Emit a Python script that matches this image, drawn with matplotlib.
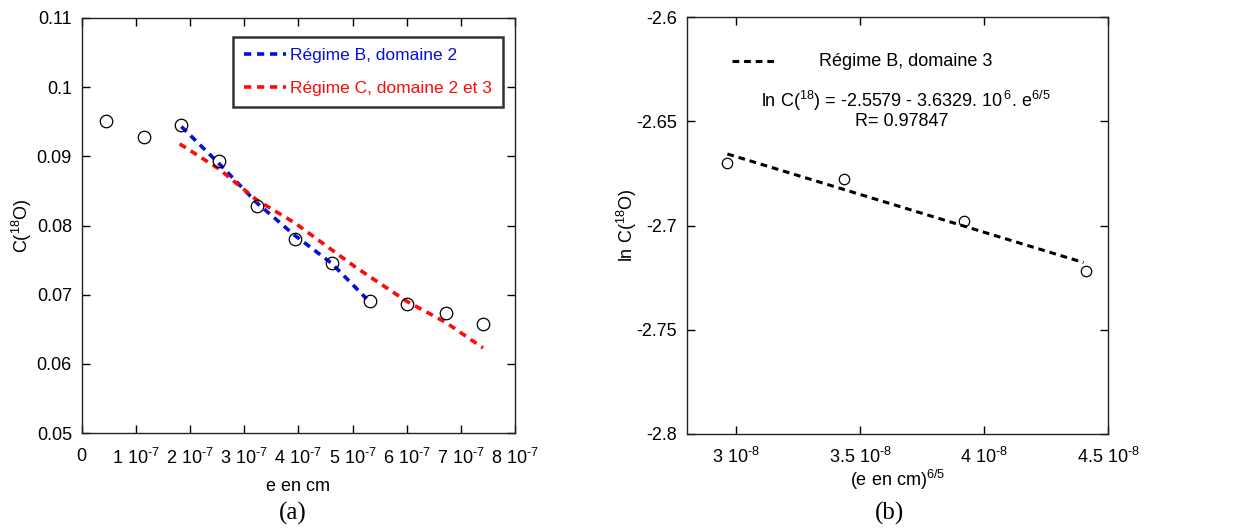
"""Two-panel figure: C(18O) vs thickness, and ln C(18O) vs e^(6/5)."""
import matplotlib
matplotlib.use("Agg")
import matplotlib.pyplot as plt

plt.rcParams["font.family"] = ["Liberation Sans", "DejaVu Sans"]
plt.rcParams["mathtext.fontset"] = "custom"
plt.rcParams["mathtext.rm"] = "Liberation Sans"
plt.rcParams["mathtext.it"] = "Liberation Sans:italic"
plt.rcParams["mathtext.bf"] = "Liberation Sans:bold"

# ── Panel (a) data ────────────────────────────────────────────────────
e_cm = [0.45e-7, 1.15e-7, 1.84e-7, 2.53e-7, 3.23e-7, 3.93e-7,
        4.62e-7, 5.32e-7, 6.01e-7, 6.72e-7, 7.40e-7]
c18 = [0.0951, 0.0928, 0.0946, 0.0893, 0.0828, 0.0781,
       0.0746, 0.0691, 0.0686, 0.0673, 0.0657]

fit_b_x = [1.84e-7, 2.53e-7, 3.23e-7, 3.93e-7, 4.62e-7, 5.26e-7]
fit_b_y = [0.0943, 0.0890, 0.0833, 0.0786, 0.0745, 0.0694]

fit_c_x = [1.81e-7, 2.53e-7, 3.23e-7, 3.93e-7, 5.07e-7, 6.01e-7, 6.72e-7, 7.41e-7]
fit_c_y = [0.0918, 0.0882, 0.0837, 0.0804, 0.0739, 0.0690, 0.0660, 0.0623]

xticks_a = [0, 1e-7, 2e-7, 3e-7, 4e-7, 5e-7, 6e-7, 7e-7, 8e-7]
xlabels_a = ["0"] + [f"{k} 10$^{{\\text{{-7}}}}$" for k in range(1, 9)]
yticks_a = [0.05, 0.06, 0.07, 0.08, 0.09, 0.1, 0.11]
ylabels_a = ["0.05", "0.06", "0.07", "0.08", "0.09", "0.1", "0.11"]

# ── Panel (b) data ────────────────────────────────────────────────────
e65 = [2.963e-8, 3.435e-8, 3.917e-8, 4.409e-8]
ln_c18 = [-2.6700, -2.6774, -2.6976, -2.7216]

fit_b3_x = [2.964e-8, 4.40e-8]
fit_b3_y = [-2.6656, -2.7177]

xticks_b = [3e-8, 3.5e-8, 4e-8, 4.5e-8]
xlabels_b = [f"{v} 10$^{{\\text{{-8}}}}$" for v in ["3", "3.5", "4", "4.5"]]
yticks_b = [-2.8, -2.75, -2.7, -2.65, -2.6]
ylabels_b = ["-2.8", "-2.75", "-2.7", "-2.65", "-2.6"]

FS = 13


def style_axes(ax, xpad=11):
    for s in ax.spines.values():
        s.set_linewidth(1.0)
        s.set_color("#222222")
    ax.tick_params(direction="in", length=6, width=1, top=True, right=True,
                   labelsize=FS, pad=7)
    ax.tick_params(axis="x", pad=xpad)


fig = plt.figure(figsize=(12.39, 5.29), dpi=100)
W, H = 1239, 529

# ── (a) ───────────────────────────────────────────────────────────────
ax1 = fig.add_axes([81.7 / W, 1 - 433 / H, (515 - 81.7) / W, (433 - 18) / H])
ax1.plot(fit_b_x, fit_b_y, color="#0010dd", lw=2.6, ls=(0, (2, 1.6)),
         label="Régime B, domaine 2")
ax1.plot(fit_c_x, fit_c_y, color="#ff0a0a", lw=2.6, ls=(0, (2, 1.6)),
         label="Régime C, domaine 2 et 3")
ax1.plot(e_cm, c18, ls="none", marker="o", ms=9, mfc="none", mec="black", mew=0.9)
ax1.set_xlim(0, 8e-7)
ax1.set_ylim(0.05, 0.11)
ax1.set_xticks(xticks_a, xlabels_a)
ax1.set_yticks(yticks_a, ylabels_a)
style_axes(ax1)
ax1.set_xlabel("e en cm", fontsize=FS, labelpad=7)
ax1.set_ylabel("C($^{18}$O)", fontsize=FS, labelpad=2)
leg = ax1.legend(loc="upper right", bbox_to_anchor=(0.973, 0.955), fontsize=12.5,
                 frameon=True, fancybox=False, handlelength=2.4, handletextpad=0.25,
                 labelspacing=1.0, borderpad=0.65, borderaxespad=0)
leg.get_frame().set_edgecolor("black")
leg.get_frame().set_linewidth(1.8)
for txt, col in zip(leg.get_texts(), ["#0010dd", "#ff0a0a"]):
    txt.set_color(col)
fig.text(293 / W, 1 - 513 / H, "(a)", family="Liberation Serif", fontsize=18,
         ha="center", va="center")

# ── (b) ───────────────────────────────────────────────────────────────
ax2 = fig.add_axes([686.7 / W, 1 - 434 / H, (1108.3 - 686.7) / W, (434 - 17.3) / H])
ax2.plot(fit_b3_x, fit_b3_y, color="black", lw=2.2, ls=(0, (2.2, 1.6)))
ax2.plot(e65, ln_c18, ls="none", marker="o", ms=7.5, mfc="none", mec="black", mew=0.9)
ax2.set_xlim(2.8e-8, 4.5e-8)
ax2.set_ylim(-2.8, -2.6)
ax2.set_xticks(xticks_b, xlabels_b)
ax2.set_yticks(yticks_b, ylabels_b)
style_axes(ax2, xpad=9)
ax2.set_xlabel("(e en cm)$^{6/5}$", fontsize=FS, labelpad=1)
ax2.set_ylabel("ln C($^{18}$O)", fontsize=FS, labelpad=-2)

# legend-like annotation drawn in axes fractions
ax2.plot([0.108, 0.207], [0.894, 0.894], transform=ax2.transAxes, color="black",
         lw=2.2, ls=(0, (2.2, 1.6)))
ax2.text(0.52, 0.894, "Régime B, domaine 3", transform=ax2.transAxes,
         fontsize=FS, ha="center", va="center")
ax2.text(0.52, 0.80, "ln C($^{18}$) = -2.5579 - 3.6329. 10$^{\\,6}$. e$^{6/5}$",
         transform=ax2.transAxes, fontsize=FS, ha="center", va="center")
ax2.text(0.51, 0.75, "R= 0.97847", transform=ax2.transAxes,
         fontsize=FS, ha="center", va="center")
fig.text(890 / W, 1 - 513 / H, "(b)", family="Liberation Serif", fontsize=18,
         ha="center", va="center")

fig.savefig("out.png", dpi=100)
